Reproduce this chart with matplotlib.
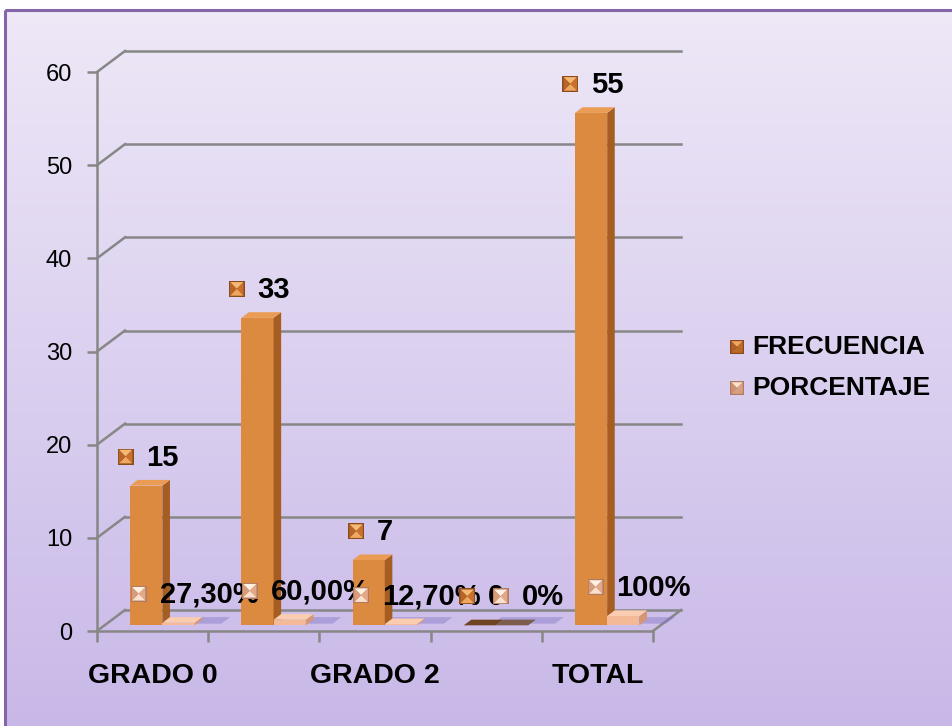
import numpy as np
import matplotlib.pyplot as plt
from matplotlib.patches import Polygon, Rectangle
from matplotlib.transforms import IdentityTransform

plt.rcParams['font.family'] = ['Liberation Sans', 'DejaVu Sans']

# data
categorias = ['GRADO 0', 'GRADO 1', 'GRADO 2', 'GRADO 3', 'TOTAL']
etiquetas_x = ['GRADO 0', '', 'GRADO 2', '', 'TOTAL']
frecuencia = [15, 33, 7, 0, 55]
porcentaje = [0.273, 0.60, 0.127, 0.0, 1.0]
etiquetas_pct = ['27,30%', '60,00%', '12,70%', '0%', '100%']

W, H = 952, 726
DX, DY = 28, 21          # depth of the 3d box in pixels
D0, D1 = 0.27, 0.54      # depth range used by the columns

GRID = '#878787'
FREC_COL = dict(front='#DC8A3F', side='#A65D22', top='#EA9C55', zero='#6E4422',
                mk=('#F6B872', '#C8702C', '#F0A860', '#B8652A', '#8A4A1C'))
PORC_COL = dict(front='#F4B997', side='#D59577', top='#FBCDB0', zero='#7C5C4C',
                mk=('#FFF0E2', '#E3A887', '#FCE0CC', '#D89C7C', '#B07A60'))

fig = plt.figure(figsize=(W / 100, H / 100), dpi=100)
fig.patch.set_facecolor('white')

# background gradient and frame
bg = fig.add_axes([0, 0, 1, 1], zorder=0)
bg.set_xlim(0, W)
bg.set_ylim(H, 0)
bg.axis('off')
top_c = np.array([238, 232, 247]) / 255
bot_c = np.array([200, 184, 232]) / 255
t = np.linspace(0, 1, 256)[:, None, None]
grad = top_c * (1 - t) + bot_c * t
bg.imshow(grad, extent=(5, W, H, 10), aspect='auto', interpolation='bilinear')
bg.add_patch(Rectangle((5, 10), W, H, fill=False, edgecolor='#8466A8', lw=2.2))

# front plane of the chart
x0, x1, yb, yt = 97, 653, 631, 72
ax = fig.add_axes([x0 / W, (H - yb) / H, (x1 - x0) / W, (yb - yt) / H], zorder=1)
ax.set_facecolor('none')
ax.set_xlim(-0.5, 4.5)
ax.set_ylim(0, 60)
for s in ['top', 'right']:
    ax.spines[s].set_visible(False)
for s in ['left', 'bottom']:
    ax.spines[s].set_color(GRID)
    ax.spines[s].set_linewidth(1.8)
ax.set_yticks(range(0, 61, 10))
ax.tick_params(axis='y', length=7, width=1.8, color=GRID, pad=11, labelsize=17)
ax.set_xticks(np.arange(-0.5, 4.6, 1))
ax.set_xticklabels([])
ax.tick_params(axis='x', which='major', length=8, width=1.8, color=GRID)
ax.set_xticks(range(len(categorias)), minor=True)
ax.set_xticklabels(etiquetas_x, minor=True, fontsize=20.5, fontweight='bold')
ax.tick_params(axis='x', which='minor', length=0, pad=23)


def proj(x, y, d):
    px, py = ax.transData.transform((x, y))
    return px + d * DX, py + d * DY


def poly(pts, color, z, **kw):
    fig.add_artist(Polygon(pts, closed=True, facecolor=color, edgecolor='none',
                           transform=IdentityTransform(), zorder=z, **kw))


def line(p, q, z=2):
    fig.add_artist(plt.Line2D([p[0], q[0]], [p[1], q[1]], color=GRID, lw=1.8,
                              transform=IdentityTransform(), zorder=z))


# back wall, left wall and floor lines
for yv in range(0, 61, 10):
    line(proj(-0.5, yv, 1), proj(4.5, yv, 1))
    line(proj(-0.5, yv, 0), proj(-0.5, yv, 1))
line(proj(4.5, 0, 0), proj(4.5, 0, 1))


def column(xa, xb, val, col, z, shadow=False):
    fl, fr = proj(xa, val, D0), proj(xb, val, D0)
    bl, br = proj(xa, val, D1), proj(xb, val, D1)
    l0, r0 = proj(xa, 0, D0), proj(xb, 0, D0)
    r1 = proj(xb, 0, D1)
    if shadow:
        # soft shadow on the floor behind the pair of columns
        s0, s1 = proj(xa - 0.05, 0, D0 + 0.08), proj(xb + 0.22, 0, D0 + 0.08)
        s2, s3 = proj(xb + 0.22, 0, D1 + 0.12), proj(xa - 0.05, 0, D1 + 0.12)
        poly([s0, s1, s2, s3], '#8377C6', 3, alpha=0.45)
    if val > 0:
        poly([l0, r0, fr, fl], col['front'], z)
        poly([r0, r1, br, fr], col['side'], z)
        poly([fl, fr, br, bl], col['top'], z + 0.1)
    else:
        poly([fl, fr, br, bl], col['zero'], z + 0.1)


def bevel_marker(cx, cy, s, c, z):
    h = s / 2
    poly([(cx - h, cy + h), (cx + h, cy + h), (cx + h, cy - h), (cx - h, cy - h)], c[4], z)
    i = h - 1.2
    a, b, cc, d = (cx - i, cy + i), (cx + i, cy + i), (cx + i, cy - i), (cx - i, cy - i)
    m = (cx, cy)
    poly([a, b, m], c[0], z + 0.01)
    poly([b, cc, m], c[1], z + 0.01)
    poly([cc, d, m], c[2], z + 0.01)
    poly([d, a, m], c[3], z + 0.01)


renderer = fig.canvas.get_renderer()


def label(cx, ytop, txt, c, z):
    t = fig.text(0, 0, txt, fontsize=21, fontweight='bold', color='black',
                 transform=IdentityTransform(), va='center', ha='left', zorder=z + 0.1)
    w = t.get_window_extent(renderer).width
    g = 29 + w
    left = cx - g / 2
    y = ytop + 28
    bevel_marker(left + 8, y + 1, 16, c, z)
    t.set_position((left + 29, y))


wbar = 0.29
for i in range(len(categorias)):
    z = 4 + i
    column(i - 0.27, i - 0.27 + wbar, frecuencia[i], FREC_COL, z)
    column(i + 0.02, i + 0.02 + wbar, porcentaje[i], PORC_COL, z + 0.3, shadow=True)

for i in range(len(categorias)):
    z = 20 + i
    fx, fy = proj(i - 0.27 + wbar / 2, frecuencia[i], D0)
    label(fx + 2, fy, str(frecuencia[i]), FREC_COL['mk'], z)
    px, py = proj(i + 0.02 + wbar / 2, porcentaje[i], D0)
    label(px + 16, py, etiquetas_pct[i], PORC_COL['mk'], z + 0.5)

# legend
leg_col = [('FRECUENCIA', ('#F0A860', '#C06A28', '#C06A28', '#B0602A', '#8A4A1C')),
           ('PORCENTAJE', ('#FDE2CE', '#D9A184', '#D9A184', '#CC9272', '#B07A60'))]
for k, (name, c) in enumerate(leg_col):
    yy = H - (347 + 41 * k)
    bevel_marker(737, yy, 14, c, 30)
    fig.text(752, yy, name, fontsize=19, fontweight='bold', va='center',
             transform=IdentityTransform(), zorder=30)

fig.savefig('out.png', dpi=100)
